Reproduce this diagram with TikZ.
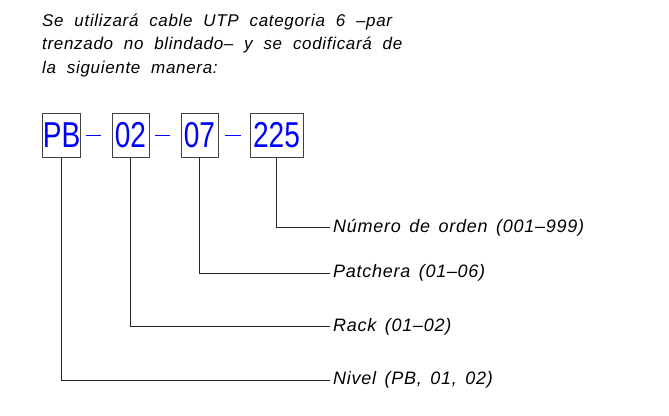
\documentclass[tikz,border=0pt]{standalone}
\usepackage{fontspec}
\setmainfont{Liberation Sans}[LetterSpace=4, WordSpace=1.5]
\newfontfamily\introfont{Liberation Sans}[LetterSpace=4, WordSpace=2]
\newfontfamily\boxfont{Liberation Sans}[FakeStretch=0.78]
\usetikzlibrary{positioning}
\tikzstyle{codebox} = [draw=black!75, line width=1pt, inner sep=0pt, minimum height=44pt, text=blue, font=\boxfont\fontsize{36}{36}\selectfont]
\tikzstyle{sep} = [blue, line width=0.8pt]
\tikzstyle{lead} = [line width=0.9pt, black!85]
\tikzstyle{label} = [anchor=west, inner sep=0pt, font=\itshape\fontsize{18}{18}\selectfont]

\begin{document}
\begin{tikzpicture}[x=1pt, y=-1pt]
        \useasboundingbox (0,0) rectangle (669,415);
        \node[anchor=base west, inner sep=0pt, align=left, font=\introfont\itshape\fontsize{17}{23.3}\selectfont] (intro) at (42,73)
        {Se utilizará cable UTP categoria 6 –par\\ trenzado no blindado– y se codificará de\\ la siguiente manera:};
        \node[codebox, minimum width=37pt] (pb) at (61.5,135) {PB};
        \node[codebox, minimum width=37pt] (rack) at (130.5,135) {02};
        \node[codebox, minimum width=37pt] (patch) at (199.5,135) {07};
        \node[codebox, minimum width=53pt] (orden) at (276.5,135) {225};
        \draw[sep, shorten <=5pt, shorten >=11pt] (pb.east) -- (rack.west);
        \draw[sep, shorten <=5pt, shorten >=11pt] (rack.east) -- (patch.west);
        \draw[sep, shorten <=6pt, shorten >=9pt] (patch.east) -- (orden.west);
        \node[label] (lorden) at (333,227.5) {Número de orden (001–999)};
        \node[label] (lpatch) at (333,273) {Patchera (01–06)};
        \node[label] (lrack) at (333,326.5) {Rack (01–02)};
        \node[label] (lnivel) at (333,380) {Nivel (PB, 01, 02)};
        \draw[lead] (orden.south) |- ([xshift=-3pt]lorden.west);
        \draw[lead] (patch.south) |- ([xshift=-3pt]lpatch.west);
        \draw[lead] (rack.south) |- ([xshift=-3pt]lrack.west);
        \draw[lead] (pb.south) |- ([xshift=-3pt]lnivel.west);
\end{tikzpicture}
\end{document}
